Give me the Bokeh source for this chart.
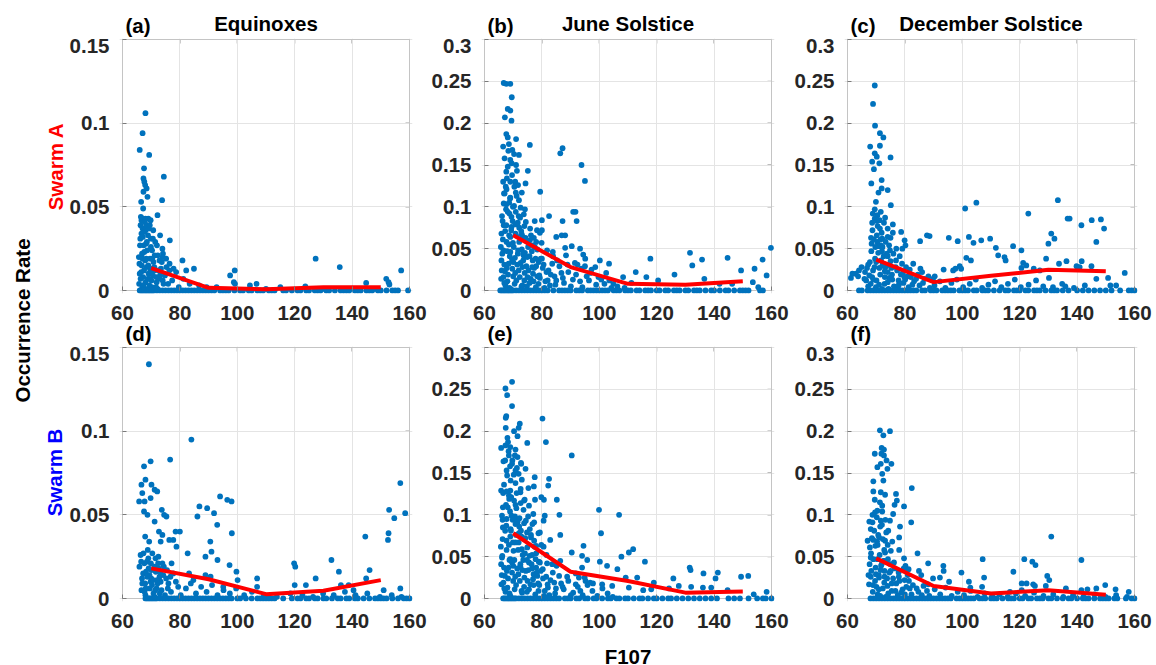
from math import pi

from bokeh.embed import file_html
from bokeh.layouts import column, row
from bokeh.models import (BoxAnnotation, FixedTicker, Grid, Label, LinearAxis,
                          NumeralTickFormatter, Range1d)
from bokeh.plotting import figure
from bokeh.resources import INLINE

# ---------------------------------------------------------------- data
# occurrence rate vs F10.7 for each season (columns) and satellite (rows)
a_points = [
    (68.0, 0.106), (67.0, 0.094), (66.0, 0.084), (69.3, 0.081), (67.5, 0.073), (67.3, 0.067),
    (67.6, 0.065), (67.9, 0.063), (68.4, 0.061), (74.4, 0.068), (67.3, 0.059), (73.8, 0.054),
    (66.5, 0.053), (68.7, 0.056), (67.2, 0.049), (72.2, 0.045), (66.6, 0.042), (67.2, 0.043),
    (68.0, 0.043), (69.0, 0.043), (69.8, 0.042), (66.3, 0.039), (67.0, 0.037), (68.3, 0.039),
    (69.5, 0.039), (68.0, 0.036), (70.7, 0.036), (73.1, 0.033), (76.5, 0.030), (74.1, 0.022),
    (74.0, 0.020), (80.9, 0.018), (75.3, 0.014), (76.3, 0.012), (82.2, 0.012), (84.9, 0.013),
    (97.5, 0.009), (99.1, 0.012), (98.8, 0.005), (99.2, 0.004), (104.4, 0.003), (106.7, 0.004),
    (127.3, 0.019), (135.7, 0.014), (144.9, 0.0045), (151.9, 0.007), (152.7, 0.005),
    (153.0, 0.0036), (157.1, 0.012), (123.7, 0.0025), (115.0, 0.002), (92.8, 0.002),
    (110.0, 0.001), (130.0, 0.001), (141.0, 0.001), (148.0, 0.001),
    (66.2, 0.031), (67.4, 0.027), (68.9, 0.033), (70.3, 0.024), (66.8, 0.022), (69.6, 0.019),
    (71.4, 0.029), (67.9, 0.018), (65.9, 0.016), (68.4, 0.014), (70.8, 0.017), (72.3, 0.021),
    (66.5, 0.011), (69.1, 0.010), (67.2, 0.008), (71.0, 0.012), (73.4, 0.013), (68.0, 0.005),
    (65.8, 0.004), (70.1, 0.006), (72.6, 0.007), (74.8, 0.009), (66.9, 0.002), (69.4, 0.003),
    (71.7, 0.002), (75.9, 0.004), (77.3, 0.006), (78.7, 0.011), (76.4, 0.016), (73.9, 0.025),
    (72.0, 0.027), (67.7, 0.035), (69.9, 0.031), (66.1, 0.027), (68.6, 0.024), (71.2, 0.021),
    (70.6, 0.009), (67.5, 0.012), (69.0, 0.015), (65.7, 0.020), (72.9, 0.018), (74.3, 0.004),
    (79.6, 0.002), (81.2, 0.007), (83.4, 0.004), (86.7, 0.003), (89.3, 0.002), (77.8, 0.013),
    (75.2, 0.019), (68.2, 0.028), (66.6, 0.034), (70.0, 0.013), (71.9, 0.005), (73.1, 0.009),
    (67.0, 0.019), (69.3, 0.007), (68.7, 0.001), (66.3, 0.007), (72.2, 0.001), (74.0, 0.006),
    (66.4, 0.044), (67.1, 0.032), (67.8, 0.041), (68.5, 0.029), (69.2, 0.037), (69.9, 0.026),
    (70.6, 0.031), (66.7, 0.015), (67.6, 0.023), (68.3, 0.019), (69.7, 0.012), (70.4, 0.019),
    (71.1, 0.014), (71.8, 0.008), (72.5, 0.012), (66.0, 0.010), (67.3, 0.003), (68.8, 0.007),
    (70.2, 0.002), (73.7, 0.017),
]
a_zero = [66, 66.5, 67, 67.5, 68, 68.5, 69, 69.5, 70, 70.5, 71, 72, 73, 74, 75, 76, 77, 78, 79,
          80, 81, 82, 83, 84, 85, 86, 87, 88, 89, 90, 91, 92, 94, 95, 96, 97, 99, 101, 102, 104,
          105, 107, 108, 109, 111, 112, 113, 116, 117, 119, 121, 122, 124, 125, 127, 128, 129,
          131, 132, 134, 136, 137, 138, 139, 141, 142, 143, 145, 146, 147, 149, 150, 152, 154,
          155, 156, 159.5]

b_points = [
    (66.7, 0.248), (67.6, 0.247), (69.0, 0.247), (69.5, 0.231), (68.1, 0.217), (69.0, 0.215),
    (67.1, 0.207), (69.4, 0.203), (67.6, 0.187), (68.1, 0.183), (71.0, 0.181), (75.8, 0.174),
    (66.5, 0.172), (68.5, 0.175), (69.7, 0.168), (70.3, 0.163), (72.0, 0.162), (67.0, 0.158),
    (69.0, 0.156), (71.0, 0.150), (68.1, 0.148), (75.1, 0.143), (67.6, 0.142), (69.6, 0.138),
    (66.5, 0.130), (69.0, 0.130), (70.7, 0.130), (67.4, 0.124), (71.7, 0.126), (74.3, 0.128),
    (67.0, 0.116), (73.0, 0.117), (79.4, 0.118), (68.9, 0.110), (72.0, 0.108), (67.6, 0.103),
    (69.9, 0.100), (74.1, 0.097), (68.7, 0.092), (71.9, 0.089), (77.5, 0.083), (80.0, 0.084),
    (82.5, 0.089), (87.2, 0.083), (87.2, 0.170), (86.4, 0.164), (93.8, 0.150), (95.0, 0.131),
    (90.9, 0.094), (91.7, 0.094), (92.1, 0.083), (66.7, 0.078), (69.4, 0.076), (73.9, 0.077),
    (78.3, 0.072), (80.0, 0.072), (65.9, 0.068), (70.8, 0.068), (73.1, 0.065), (85.0, 0.064),
    (86.9, 0.066), (88.1, 0.066), (67.7, 0.058), (75.8, 0.060), (76.9, 0.054), (90.4, 0.053),
    (93.3, 0.050), (66.6, 0.048), (69.0, 0.046), (71.6, 0.044), (73.6, 0.042), (80.0, 0.038),
    (83.8, 0.046), (88.1, 0.051), (94.4, 0.043), (95.1, 0.038), (100.2, 0.036), (98.6, 0.028),
    (103.4, 0.032), (117.8, 0.038), (131.6, 0.045), (132.4, 0.030), (135.8, 0.037),
    (144.7, 0.039), (149.4, 0.024), (154.1, 0.026), (156.9, 0.037), (159.8, 0.051),
    (158.3, 0.018), (153.5, 0.010), (155.4, 0.004), (112.7, 0.022), (116.4, 0.016),
    (126.2, 0.019), (136.6, 0.014), (108.3, 0.016), (120.5, 0.012), (141.9, 0.008),
    (146.3, 0.008), (104.9, 0.008), (111.2, 0.009),
    (66.4, 0.061), (67.9, 0.047), (69.3, 0.072), (70.6, 0.039), (72.1, 0.058), (73.5, 0.044),
    (75.2, 0.052), (76.8, 0.036), (78.4, 0.049), (66.9, 0.031), (68.2, 0.019), (69.7, 0.026),
    (71.1, 0.012), (72.6, 0.033), (74.0, 0.021), (75.7, 0.009), (77.3, 0.027), (79.1, 0.018),
    (80.6, 0.031), (82.3, 0.024), (83.9, 0.041), (65.8, 0.014), (67.3, 0.006), (68.8, 0.041),
    (70.2, 0.052), (71.6, 0.081), (73.0, 0.067), (74.6, 0.029), (76.1, 0.014), (77.9, 0.004),
    (79.6, 0.038), (81.2, 0.011), (82.8, 0.006), (84.4, 0.017), (86.1, 0.029), (87.7, 0.009),
    (89.2, 0.022), (90.8, 0.013), (92.4, 0.031), (94.1, 0.004), (95.6, 0.017), (97.3, 0.025),
    (98.9, 0.007), (100.7, 0.013), (102.4, 0.021), (104.2, 0.003), (66.1, 0.089), (67.5, 0.097),
    (68.6, 0.066), (70.9, 0.094), (72.4, 0.087), (69.0, 0.111), (70.4, 0.124), (67.8, 0.134),
    (71.3, 0.143), (69.5, 0.152), (68.3, 0.167), (70.9, 0.117), (66.7, 0.104), (73.7, 0.091),
    (75.9, 0.074), (77.2, 0.063), (79.9, 0.057), (81.8, 0.048), (85.3, 0.036), (88.4, 0.042),
    (91.5, 0.033), (93.7, 0.026), (96.4, 0.012), (66.2, 0.044), (67.1, 0.023), (68.0, 0.011),
    (69.1, 0.002), (70.0, 0.017), (71.9, 0.024), (73.2, 0.006), (74.9, 0.040), (76.5, 0.047),
    (78.0, 0.029), (79.3, 0.015), (80.9, 0.003), (83.1, 0.019), (85.0, 0.012), (86.8, 0.021),
    (88.9, 0.031), (90.1, 0.005), (91.9, 0.019), (93.3, 0.011), (95.0, 0.029), (96.9, 0.021),
    (99.7, 0.016), (101.8, 0.008), (103.5, 0.012), (106.3, 0.005), (108.8, 0.003), (67.6, 0.078),
    (69.8, 0.083), (72.8, 0.071), (74.3, 0.063), (71.0, 0.066), (65.9, 0.036), (68.5, 0.055),
    (70.0, 0.034), (73.9, 0.012), (76.9, 0.020), (78.8, 0.008), (81.6, 0.022), (84.7, 0.007),
    (87.3, 0.015),
    (66.3, 0.083), (67.2, 0.071), (68.1, 0.094), (69.0, 0.064), (69.9, 0.057), (70.8, 0.079),
    (71.7, 0.048), (72.6, 0.099), (73.5, 0.036), (74.4, 0.082), (75.3, 0.024), (76.2, 0.066),
    (77.1, 0.011), (78.0, 0.058), (78.9, 0.034), (66.8, 0.116), (67.7, 0.121), (68.6, 0.105),
    (69.4, 0.088), (70.3, 0.101), (71.2, 0.113), (72.1, 0.075), (73.0, 0.049), (73.9, 0.061),
    (74.8, 0.005), (75.7, 0.041), (76.6, 0.028), (77.5, 0.052), (78.4, 0.017), (79.3, 0.069),
    (66.0, 0.024), (66.9, 0.009), (67.8, 0.027), (68.7, 0.003), (69.6, 0.037), (70.5, 0.008),
    (71.4, 0.031), (72.3, 0.016), (73.2, 0.028), (74.1, 0.045), (65.7, 0.052), (66.6, 0.016),
    (68.4, 0.032), (70.7, 0.021), (72.9, 0.005), (75.0, 0.016), (77.8, 0.038), (80.3, 0.027),
    (82.0, 0.012), (83.6, 0.032),
]
b_zero = [65.5, 66, 66.5, 67, 67.5, 68, 68.5, 69, 69.5, 70, 71, 72, 73, 74, 75, 76, 77, 78, 79,
          80, 81, 82, 84, 86, 87, 88, 89, 90, 92, 93, 94, 96, 97, 98, 99, 100, 101, 102, 103,
          105, 106, 107, 109, 110, 111, 113, 114, 116, 117, 118, 120, 121, 123, 124, 126, 127,
          128, 130, 131, 133, 134, 135, 137, 139, 140, 142, 144, 145, 147, 149, 150, 151, 152,
          156, 157]

c_points = [
    (69.5, 0.245), (68.9, 0.223), (69.6, 0.197), (67.9, 0.172), (68.6, 0.154), (69.5, 0.164),
    (70.2, 0.160), (71.1, 0.152), (69.2, 0.145), (71.3, 0.188), (72.5, 0.183), (71.3, 0.173),
    (75.0, 0.159), (68.3, 0.128), (71.9, 0.132), (70.8, 0.117), (71.9, 0.122), (74.0, 0.120),
    (69.9, 0.106), (75.1, 0.102), (68.8, 0.092), (70.4, 0.090), (71.6, 0.094), (69.5, 0.086),
    (71.2, 0.084), (72.7, 0.081), (74.0, 0.074), (75.8, 0.079), (78.7, 0.070), (79.9, 0.060),
    (75.8, 0.069), (68.7, 0.072), (70.2, 0.066), (72.1, 0.062), (74.0, 0.064), (68.4, 0.056),
    (71.6, 0.054), (74.5, 0.054), (77.0, 0.050), (79.1, 0.050), (80.2, 0.054), (85.3, 0.059),
    (87.7, 0.066), (88.6, 0.065), (95.3, 0.063), (98.4, 0.059), (101.0, 0.098), (104.9, 0.105),
    (102.3, 0.064), (103.9, 0.057), (106.6, 0.060), (109.7, 0.062), (111.7, 0.051),
    (112.5, 0.042), (114.7, 0.040), (115.1, 0.036), (117.7, 0.053), (120.6, 0.048),
    (123.0, 0.092), (121.2, 0.033), (120.6, 0.027), (122.3, 0.030), (124.9, 0.026),
    (127.0, 0.024), (129.2, 0.038), (130.0, 0.056), (131.0, 0.068), (132.1, 0.062),
    (133.3, 0.108), (133.7, 0.032), (136.3, 0.035), (136.7, 0.086), (137.4, 0.086),
    (141.5, 0.078), (139.8, 0.029), (140.9, 0.028), (141.6, 0.035), (145.1, 0.084),
    (146.7, 0.058), (148.3, 0.085), (149.4, 0.074), (145.0, 0.029), (146.7, 0.014),
    (150.8, 0.015), (151.6, 0.006), (153.6, 0.006), (156.6, 0.021), (130.2, 0.015),
    (135.9, 0.005), (99.1, 0.029), (99.6, 0.026), (101.4, 0.039), (103.0, 0.036), (96.8, 0.024),
    (97.6, 0.026), (93.5, 0.025), (90.4, 0.017), (89.8, 0.014), (85.4, 0.026), (82.9, 0.032),
    (61.2, 0.015), (61.7, 0.020), (62.9, 0.020), (63.7, 0.017), (64.9, 0.028), (64.0, 0.024),
    (66.1, 0.022), (67.2, 0.031),
    (68.3, 0.047), (69.6, 0.038), (70.8, 0.053), (72.2, 0.031), (73.7, 0.044), (75.3, 0.027),
    (76.9, 0.036), (78.6, 0.019), (80.4, 0.028), (82.1, 0.016), (68.9, 0.024), (70.1, 0.012),
    (71.4, 0.019), (72.9, 0.008), (74.5, 0.015), (76.2, 0.005), (77.8, 0.012), (79.5, 0.009),
    (81.3, 0.004), (83.2, 0.011), (85.1, 0.006), (86.9, 0.014), (88.7, 0.003), (69.2, 0.061),
    (70.5, 0.077), (71.9, 0.069), (73.3, 0.058), (74.8, 0.048), (67.8, 0.034), (68.6, 0.016),
    (69.9, 0.004), (71.1, 0.027), (72.6, 0.041), (74.0, 0.022), (75.6, 0.013), (77.3, 0.024),
    (79.0, 0.032), (80.9, 0.017), (82.6, 0.007), (84.5, 0.019), (86.3, 0.009), (88.2, 0.017),
    (90.3, 0.006), (92.2, 0.011), (94.1, 0.003), (96.2, 0.009), (98.1, 0.013), (100.3, 0.004),
    (102.6, 0.008), (104.7, 0.013), (106.9, 0.003), (109.1, 0.007), (111.4, 0.011),
    (113.6, 0.004), (115.9, 0.008), (118.3, 0.013), (120.4, 0.004), (123.1, 0.007),
    (125.7, 0.012), (128.2, 0.005), (131.6, 0.004), (134.8, 0.008), (138.9, 0.003),
    (142.7, 0.006), (70.3, 0.083), (71.7, 0.036), (73.0, 0.016), (74.3, 0.002), (76.0, 0.044),
    (77.6, 0.003), (79.3, 0.021), (81.7, 0.025), (83.9, 0.014), (86.0, 0.022), (68.1, 0.008),
    (69.4, 0.028), (70.7, 0.045), (72.0, 0.002), (73.5, 0.029), (75.0, 0.035), (66.5, 0.012),
    (67.2, 0.005), (78.2, 0.041), (80.1, 0.013),
    (68.6, 0.081), (69.5, 0.097), (70.4, 0.058), (71.3, 0.074), (72.2, 0.052), (73.1, 0.087),
    (74.0, 0.041), (75.0, 0.063), (69.0, 0.013), (70.0, 0.034), (71.0, 0.007), (72.0, 0.047),
    (73.0, 0.023), (74.0, 0.010), (75.5, 0.019), (76.8, 0.028), (68.2, 0.063), (69.7, 0.052),
    (71.5, 0.061), (72.8, 0.029), (67.6, 0.018), (66.8, 0.027), (65.9, 0.014), (77.9, 0.007),
    (79.8, 0.016),
]
c_zero = [64, 65, 67, 68, 69, 70, 71, 72, 73, 74, 75, 76, 77, 78, 79, 80, 81, 82, 83, 84, 86, 87,
          89, 90, 91, 93, 94, 95, 96, 97, 99, 100, 101, 102, 104, 105, 107, 108, 109, 111, 113,
          115, 116, 118, 119, 120, 122, 123, 125, 126, 127, 129, 131, 132, 133, 135, 137, 140,
          142, 144, 146, 148, 150, 152, 155, 158, 159, 160]

d_points = [
    (69.2, 0.140), (84.0, 0.095), (76.6, 0.083), (69.8, 0.082), (67.5, 0.079), (156.8, 0.069),
    (66.6, 0.068), (68.0, 0.071), (70.1, 0.068), (71.2, 0.065), (72.1, 0.064), (65.8, 0.058),
    (66.9, 0.063), (67.7, 0.058), (69.8, 0.060), (94.0, 0.061), (96.5, 0.059), (98.0, 0.058),
    (86.8, 0.055), (89.5, 0.054), (86.1, 0.049), (91.9, 0.051), (73.7, 0.053), (74.5, 0.050),
    (75.3, 0.049), (67.5, 0.052), (68.7, 0.050), (152.9, 0.053), (154.7, 0.048), (158.5, 0.051),
    (93.0, 0.044), (71.2, 0.046), (72.7, 0.040), (73.9, 0.038), (78.5, 0.040), (80.0, 0.040),
    (76.3, 0.035), (77.7, 0.035), (78.8, 0.031), (67.9, 0.037), (69.3, 0.034), (73.3, 0.034),
    (144.6, 0.037), (152.7, 0.039), (152.5, 0.035), (98.1, 0.039), (90.6, 0.034), (91.0, 0.028),
    (82.7, 0.027), (93.1, 0.023), (88.9, 0.025), (97.3, 0.020), (132.8, 0.023), (119.8, 0.021),
    (120.2, 0.019), (135.4, 0.016), (146.1, 0.017), (99.7, 0.016), (100.1, 0.011),
    (106.9, 0.012), (127.3, 0.012), (144.9, 0.012), (90.7, 0.013), (88.9, 0.014), (84.7, 0.011),
    (83.2, 0.015), (95.1, 0.007), (106.9, 0.007), (120.0, 0.008), (123.9, 0.008), (136.1, 0.008),
    (138.8, 0.008), (156.8, 0.006), (151.0, 0.005), (140.5, 0.005),
    (66.3, 0.026), (67.6, 0.021), (68.8, 0.029), (70.1, 0.017), (71.5, 0.024), (72.9, 0.013),
    (74.4, 0.019), (76.0, 0.009), (77.7, 0.015), (79.4, 0.007), (66.8, 0.012), (68.1, 0.006),
    (69.4, 0.014), (70.8, 0.003), (72.2, 0.009), (73.6, 0.005), (75.2, 0.012), (76.9, 0.004),
    (78.6, 0.010), (80.3, 0.002), (82.1, 0.006), (83.8, 0.009), (85.6, 0.003), (87.4, 0.007),
    (89.3, 0.004), (91.2, 0.008), (93.1, 0.002), (95.2, 0.005), (97.4, 0.003), (99.6, 0.006),
    (65.9, 0.019), (67.2, 0.015), (68.5, 0.022), (69.8, 0.010), (71.1, 0.019), (72.5, 0.025),
    (73.9, 0.021), (75.5, 0.017), (77.1, 0.021), (70.4, 0.027), (68.0, 0.002), (69.1, 0.018),
    (71.9, 0.006), (73.2, 0.016), (74.8, 0.002), (66.6, 0.005), (67.9, 0.009), (70.0, 0.012),
    (71.2, 0.001), (72.6, 0.018), (102.4, 0.002), (105.1, 0.004), (109.3, 0.002),
    (113.8, 0.001), (118.5, 0.003), (122.7, 0.002), (126.4, 0.001), (129.9, 0.003),
    (133.6, 0.002), (137.5, 0.004), (141.2, 0.002), (145.3, 0.003), (149.7, 0.001),
    (153.8, 0.002), (157.2, 0.001),
    (66.5, 0.022), (67.3, 0.027), (68.2, 0.016), (69.0, 0.024), (69.9, 0.021), (70.7, 0.011),
    (71.6, 0.016), (72.4, 0.021), (73.3, 0.010), (74.2, 0.014), (66.9, 0.009), (67.7, 0.004),
    (68.6, 0.013), (69.5, 0.006), (70.3, 0.008), (71.4, 0.005), (72.0, 0.011), (73.0, 0.003),
    (75.8, 0.006), (76.7, 0.013),
]
d_zero = [68, 68.5, 69, 69.5, 70, 70.5, 71, 71.5, 72, 73, 74, 75, 76, 77, 78, 79, 80, 81, 82, 83,
          84, 85, 86, 87, 88, 89, 90, 91, 92, 93, 94, 95, 96, 97, 98, 100, 101, 103, 105, 107,
          108, 109, 110, 111, 112, 113, 116, 119, 121, 122, 124, 125, 127, 128, 130, 131, 133,
          135, 136, 138, 139, 141, 142, 144, 146, 148, 149, 150, 151, 152, 154, 156, 158, 159,
          160]

e_points = [
    (69.6, 0.259), (67.3, 0.251), (67.9, 0.243), (69.6, 0.230), (67.6, 0.218), (67.4, 0.216),
    (72.3, 0.209), (71.9, 0.204), (67.4, 0.204), (70.3, 0.200), (71.5, 0.194), (68.0, 0.192),
    (80.2, 0.215), (81.4, 0.187), (74.9, 0.186), (65.8, 0.180), (67.3, 0.183), (69.0, 0.181),
    (70.8, 0.178), (68.5, 0.171), (71.5, 0.169), (90.4, 0.171), (66.6, 0.164), (69.6, 0.161),
    (72.7, 0.162), (74.3, 0.155), (67.7, 0.153), (70.8, 0.153), (77.5, 0.145), (82.5, 0.143),
    (82.2, 0.135), (77.2, 0.134), (75.3, 0.132), (65.8, 0.129), (69.0, 0.129), (72.5, 0.127),
    (68.5, 0.123), (79.8, 0.121), (80.7, 0.118), (85.2, 0.118), (77.6, 0.118), (73.8, 0.117),
    (66.4, 0.109), (70.8, 0.112), (75.5, 0.111), (99.9, 0.106), (106.9, 0.100), (86.1, 0.100),
    (81.0, 0.099), (77.0, 0.101), (67.7, 0.095), (71.5, 0.093), (73.8, 0.090), (77.3, 0.091),
    (80.6, 0.093), (100.6, 0.078), (66.4, 0.085), (69.2, 0.081), (72.0, 0.078), (74.8, 0.079),
    (78.8, 0.078), (82.9, 0.070), (86.4, 0.076), (67.7, 0.069), (70.8, 0.067), (76.2, 0.073),
    (80.6, 0.062), (111.8, 0.059), (110.3, 0.055), (107.7, 0.050), (94.5, 0.063), (94.0, 0.051),
    (90.4, 0.055), (95.8, 0.046), (115.9, 0.044), (100.2, 0.044), (102.7, 0.039), (106.3, 0.035),
    (81.8, 0.042), (66.1, 0.049), (69.0, 0.047), (72.5, 0.041), (75.5, 0.043), (78.0, 0.037),
    (86.4, 0.045), (94.0, 0.037), (91.8, 0.030), (109.2, 0.025), (113.2, 0.025), (119.0, 0.019),
    (125.8, 0.024), (131.5, 0.037), (131.8, 0.034), (136.3, 0.030), (141.3, 0.031),
    (140.5, 0.024), (149.4, 0.026), (151.9, 0.027), (158.3, 0.008), (153.8, 0.005),
    (144.7, 0.010), (139.0, 0.013), (136.1, 0.013), (132.0, 0.014), (127.7, 0.015),
    (124.3, 0.012), (118.1, 0.011), (115.3, 0.010), (110.3, 0.013), (104.5, 0.015),
    (101.0, 0.017), (97.8, 0.018), (95.2, 0.021), (92.9, 0.025),
    (66.3, 0.071), (67.7, 0.058), (69.1, 0.083), (70.4, 0.046), (71.9, 0.067), (73.3, 0.052),
    (74.9, 0.061), (76.4, 0.041), (78.0, 0.054), (79.6, 0.033), (66.8, 0.037), (68.2, 0.024),
    (69.6, 0.031), (71.0, 0.016), (72.5, 0.038), (73.9, 0.025), (75.5, 0.011), (77.1, 0.029),
    (78.7, 0.018), (80.4, 0.024), (82.1, 0.013), (83.8, 0.031), (65.9, 0.017), (67.3, 0.008),
    (68.7, 0.046), (70.1, 0.057), (71.5, 0.091), (72.9, 0.074), (74.4, 0.033), (76.0, 0.017),
    (77.7, 0.005), (79.3, 0.043), (81.0, 0.009), (82.6, 0.004), (84.3, 0.019), (86.0, 0.027),
    (87.6, 0.011), (89.2, 0.021), (90.9, 0.007), (92.5, 0.014), (94.2, 0.004), (95.9, 0.016),
    (97.6, 0.009), (99.3, 0.003), (101.1, 0.012), (102.9, 0.006), (104.7, 0.002), (66.1, 0.099),
    (67.5, 0.112), (68.9, 0.104), (70.6, 0.098), (72.2, 0.096), (69.3, 0.121), (70.8, 0.138),
    (67.9, 0.147), (71.3, 0.156), (69.7, 0.165), (68.4, 0.176), (66.5, 0.126), (73.6, 0.106),
    (75.8, 0.083), (77.3, 0.069), (79.8, 0.064), (81.6, 0.052), (85.1, 0.039), (66.2, 0.051),
    (67.1, 0.027), (68.0, 0.013), (69.0, 0.003), (70.0, 0.021), (71.8, 0.029), (73.1, 0.007),
    (74.8, 0.046), (76.6, 0.052), (78.2, 0.031), (79.1, 0.016), (80.8, 0.003), (83.0, 0.022),
    (84.9, 0.012), (86.7, 0.018), (88.8, 0.026), (90.1, 0.004), (91.8, 0.017), (93.4, 0.009),
    (94.9, 0.025), (96.8, 0.019), (67.6, 0.087), (69.8, 0.094), (72.7, 0.081), (74.2, 0.072),
    (71.0, 0.076), (65.8, 0.041), (68.5, 0.064), (70.0, 0.039), (73.8, 0.014), (76.9, 0.023),
    (78.8, 0.009), (81.5, 0.026), (84.6, 0.006), (87.2, 0.014), (75.2, 0.098), (76.7, 0.089),
    (74.0, 0.118), (72.6, 0.131), (71.1, 0.108), (70.2, 0.148), (73.0, 0.142), (67.2, 0.165),
    (68.9, 0.158),
    (66.3, 0.094), (67.2, 0.081), (68.1, 0.109), (69.0, 0.074), (69.9, 0.067), (70.8, 0.089),
    (71.7, 0.058), (72.6, 0.114), (73.5, 0.046), (74.4, 0.093), (75.3, 0.034), (76.2, 0.076),
    (77.1, 0.016), (78.0, 0.063), (78.9, 0.044), (66.8, 0.136), (67.7, 0.128), (68.6, 0.119),
    (69.4, 0.099), (70.3, 0.117), (71.2, 0.126), (72.1, 0.086), (73.0, 0.059), (73.9, 0.071),
    (74.8, 0.008), (75.7, 0.051), (76.6, 0.036), (77.5, 0.062), (78.4, 0.027), (79.3, 0.079),
    (66.0, 0.028), (66.9, 0.012), (67.8, 0.033), (68.7, 0.006), (69.6, 0.043), (70.5, 0.011),
    (71.4, 0.036), (72.3, 0.021), (73.2, 0.034), (74.1, 0.054), (65.7, 0.062), (66.6, 0.019),
    (68.4, 0.037), (70.7, 0.026), (72.9, 0.009), (75.0, 0.021), (77.8, 0.047), (80.3, 0.035),
    (82.0, 0.017), (83.6, 0.041), (69.1, 0.141), (70.6, 0.171), (71.9, 0.149), (72.8, 0.161),
    (68.2, 0.187),
]
e_zero = [66.5, 67, 67.5, 68, 68.5, 69, 69.5, 70, 70.5, 71, 72, 73, 74, 75, 76, 77, 78, 79, 80,
          81, 82, 83, 84, 85, 86, 88, 89, 90, 92, 93, 95, 96, 98, 99, 101, 103, 104, 106, 107,
          109, 110, 112, 114, 115, 117, 119, 120, 122, 124, 125, 127, 129, 131, 133, 135, 137,
          139, 141, 145, 147, 149, 152, 155, 157, 158, 160]

f_points = [
    (71.3, 0.201), (74.8, 0.200), (72.5, 0.195), (69.5, 0.173), (71.9, 0.180), (72.7, 0.178),
    (71.8, 0.173), (72.7, 0.171), (73.6, 0.165), (75.3, 0.161), (70.4, 0.157), (71.6, 0.161),
    (73.9, 0.155), (72.1, 0.149), (72.5, 0.141), (69.0, 0.140), (82.4, 0.132), (76.9, 0.125),
    (73.1, 0.124), (69.0, 0.128), (71.6, 0.127), (69.5, 0.118), (77.2, 0.117), (76.4, 0.112),
    (79.7, 0.110), (71.3, 0.115), (72.1, 0.111), (70.4, 0.105), (72.1, 0.104), (75.9, 0.101),
    (68.7, 0.100), (70.2, 0.097), (71.6, 0.093), (74.8, 0.093), (82.2, 0.091), (67.6, 0.092),
    (68.1, 0.083), (74.2, 0.081), (78.3, 0.086), (78.0, 0.073), (131.0, 0.074), (67.0, 0.069),
    (69.0, 0.070), (71.0, 0.073), (73.1, 0.069), (75.6, 0.068), (78.0, 0.058), (84.4, 0.054),
    (79.7, 0.048), (107.1, 0.047), (121.6, 0.047), (124.4, 0.044), (125.5, 0.040),
    (141.5, 0.046), (68.1, 0.049), (70.4, 0.047), (72.7, 0.045), (75.0, 0.041), (80.2, 0.039),
    (81.3, 0.035), (88.1, 0.042), (93.4, 0.039), (93.5, 0.033), (84.9, 0.033), (85.7, 0.028),
    (99.7, 0.031), (92.2, 0.025), (89.8, 0.024), (95.4, 0.020), (102.3, 0.020), (107.6, 0.025),
    (117.8, 0.032), (120.7, 0.018), (122.4, 0.018), (124.7, 0.017), (125.3, 0.015),
    (129.6, 0.027), (130.3, 0.022), (129.1, 0.015), (136.1, 0.012), (141.5, 0.010),
    (143.6, 0.011), (146.7, 0.012), (149.8, 0.016), (153.4, 0.011), (158.0, 0.008),
    (120.7, 0.010), (116.6, 0.008), (102.8, 0.013), (106.9, 0.014), (88.1, 0.017),
    (67.8, 0.061), (69.0, 0.047), (70.3, 0.068), (71.7, 0.039), (73.1, 0.055), (74.6, 0.031),
    (76.2, 0.043), (77.9, 0.026), (79.6, 0.036), (81.4, 0.021), (68.3, 0.033), (69.6, 0.021),
    (70.9, 0.028), (72.3, 0.012), (73.8, 0.024), (75.4, 0.009), (77.0, 0.018), (78.7, 0.007),
    (80.5, 0.014), (82.3, 0.005), (84.1, 0.012), (85.9, 0.004), (87.7, 0.009), (67.5, 0.017),
    (68.8, 0.008), (70.1, 0.014), (71.4, 0.003), (72.8, 0.019), (74.2, 0.006), (75.9, 0.024),
    (77.5, 0.004), (79.2, 0.011), (81.0, 0.028), (82.8, 0.016), (84.7, 0.008), (86.5, 0.015),
    (88.5, 0.003), (90.4, 0.011), (92.3, 0.005), (94.2, 0.013), (96.3, 0.003), (98.4, 0.008),
    (100.6, 0.004), (102.9, 0.009), (105.3, 0.002), (107.8, 0.006), (110.4, 0.003),
    (113.0, 0.005), (115.8, 0.002), (118.7, 0.006), (121.9, 0.003), (125.0, 0.007),
    (128.3, 0.003), (131.7, 0.005), (135.2, 0.002), (138.6, 0.004), (142.2, 0.002),
    (146.1, 0.005), (149.9, 0.002), (153.6, 0.004), (157.4, 0.002), (69.3, 0.081),
    (70.7, 0.076), (72.0, 0.088), (73.5, 0.079), (68.5, 0.072), (71.2, 0.052), (72.6, 0.045),
    (74.0, 0.064), (75.1, 0.057), (76.5, 0.036), (69.8, 0.037), (71.0, 0.025), (72.9, 0.033),
    (70.5, 0.005), (68.1, 0.026), (73.3, 0.002), (78.1, 0.021), (80.0, 0.005),
    (68.7, 0.091), (69.6, 0.103), (70.5, 0.064), (71.4, 0.086), (72.3, 0.071), (73.2, 0.094),
    (74.1, 0.047), (75.0, 0.033), (68.9, 0.016), (69.9, 0.029), (70.9, 0.011), (71.9, 0.041),
    (72.9, 0.026), (73.9, 0.015), (75.4, 0.018), (76.7, 0.009), (68.2, 0.054), (69.7, 0.063),
    (71.5, 0.034), (72.8, 0.058), (67.7, 0.041), (67.3, 0.028), (77.8, 0.031), (79.9, 0.022),
    (81.7, 0.012),
]
f_zero = [68, 69, 70, 71, 72, 73, 74, 75, 76, 77, 78, 79, 80, 81, 82, 83, 84, 85, 86, 87, 88, 89,
          90, 91, 92, 93, 94, 95, 96, 98, 99, 100, 101, 102, 103, 104, 106, 107, 108, 110, 111,
          112, 114, 116, 117, 118, 120, 121, 123, 124, 126, 127, 128, 130, 131, 133, 135, 137,
          138, 140, 142, 143, 144, 146, 148, 149, 150, 151, 153, 154, 157, 159, 160]

# binned mean occurrence rate (red curves)
trend_f107 = [70, 90, 110, 130, 150]
trend_a = [0.0134, 0.0016, 0.0008, 0.0020, 0.0020]
trend_b = [0.066, 0.028, 0.008, 0.007, 0.011]
trend_c = [0.037, 0.010, 0.0175, 0.0247, 0.023]
trend_d = [0.018, 0.0115, 0.0026, 0.0046, 0.011]
trend_e = [0.078, 0.032, 0.021, 0.007, 0.0085]
trend_f = [0.048, 0.015, 0.006, 0.010, 0.0044]

x_ticks = [60, 80, 100, 120, 140, 160]
y_ticks_small = [0, 0.05, 0.1, 0.15]
y_ticks_large = [0, 0.05, 0.1, 0.15, 0.2, 0.25, 0.3]

season_titles = ["Equinoxes", "June Solstice", "December Solstice"]
panel_tags = ["(a)", "(b)", "(c)", "(d)", "(e)", "(f)"]

# ---------------------------------------------------------------- style / geometry
FONT = "Liberation Sans"
FS = "20.5px"
DOT = "#0072BD"
BOX = "#7a7a7a"
GRID = "#e4e4e4"
TXT = "#262626"
PAD = 3            # px beyond the box on left/right/bottom so edge markers stay whole
PAD_TOP = 1
TICK = 4           # inward tick length, px
LEFT = 53
BOTTOM = 32
BOX_W = 287
BOX_H = 251
FRAME_H = BOX_H + PAD + PAD_TOP
BASE = 7           # lift applied to alphabetic-baseline labels

STRIP_W = 66
widths = [362, 363, 365]
rights = [16, 17, 19]
HEAD1 = 38
HEAD2 = 21
PANEL_H = FRAME_H + BOTTOM
FOOT = 665 - HEAD1 - HEAD2 - 2 * PANEL_H
GRID_W = sum(widths)


def text_label(x, y, text, align="left", color="black", angle=0.0, baseline="alphabetic"):
    return Label(x=x, y=y, x_units="screen", y_units="screen", text=text, angle=angle,
                 text_font=FONT, text_font_style="bold", text_font_size=FS,
                 text_color=color, text_align=align, text_baseline=baseline)


def blank(width, height):
    f = figure(width=width, height=height, x_axis_type=None, y_axis_type=None,
               output_backend="svg", toolbar_location=None, min_border=0)
    f.outline_line_color = None
    f.xgrid.visible = False
    f.ygrid.visible = False
    return f


def add_axis(p, side, ticks, fmt=None):
    ax = LinearAxis(ticker=FixedTicker(ticks=ticks))
    ax.axis_line_color = None
    ax.major_tick_in = PAD + TICK
    ax.major_tick_out = -PAD
    ax.minor_tick_in = 0
    ax.minor_tick_out = 0
    ax.major_tick_line_color = BOX
    ax.major_label_text_font = FONT
    ax.major_label_text_font_style = "bold"
    ax.major_label_text_color = TXT
    ax.major_label_text_font_size = FS
    ax.major_label_standoff = 10 if side == "left" else 12
    if fmt is not None:
        ax.formatter = fmt
    p.add_layout(ax, side)


def panel(points, zeros, trend, ymax, yticks, width, right):
    fw = width - LEFT - right
    dx = PAD * 100 / BOX_W
    dx_r = (fw - BOX_W - PAD) * 100 / BOX_W
    dy = PAD * ymax / BOX_H
    dy_t = PAD_TOP * ymax / BOX_H
    p = figure(width=width, height=PANEL_H,
               x_range=Range1d(60 - dx, 160 + dx_r), y_range=Range1d(-dy, ymax + dy_t),
               x_axis_type=None, y_axis_type=None,
               output_backend="svg", toolbar_location=None,
               min_border_left=LEFT, min_border_right=right,
               min_border_top=0, min_border_bottom=BOTTOM)
    p.outline_line_color = None

    add_axis(p, "below", x_ticks)
    add_axis(p, "left", yticks, NumeralTickFormatter(format="0.[00]"))

    p.add_layout(Grid(dimension=0, ticker=FixedTicker(ticks=x_ticks),
                      grid_line_color=GRID, grid_line_width=1))
    p.add_layout(Grid(dimension=1, ticker=FixedTicker(ticks=yticks),
                      grid_line_color=GRID, grid_line_width=1))
    p.add_layout(BoxAnnotation(left=60, right=160, bottom=0, top=ymax,
                               fill_color=None, line_color=BOX, line_width=1,
                               level="underlay"))
    # inward ticks on the top and right edges of the box
    tx = TICK * 100 / BOX_W
    ty = TICK * ymax / BOX_H
    p.segment(x0=x_ticks, y0=[ymax] * len(x_ticks), x1=x_ticks,
              y1=[ymax - ty] * len(x_ticks), line_color=BOX, line_width=1, level="underlay")
    p.segment(x0=[160] * len(yticks), y0=yticks, x1=[160 - tx] * len(yticks),
              y1=yticks, line_color=BOX, line_width=1, level="underlay")

    xs = [pt[0] for pt in points] + list(zeros)
    ys = [pt[1] for pt in points] + [0.0] * len(zeros)
    p.scatter(xs, ys, size=5.8, fill_color=DOT, line_color=None)
    p.line(trend_f107, trend, line_width=4, line_color="#FF0000")
    return p


all_points = [a_points, b_points, c_points, d_points, e_points, f_points]
all_zero = [a_zero, b_zero, c_zero, d_zero, e_zero, f_zero]
all_trend = [trend_a, trend_b, trend_c, trend_d, trend_e, trend_f]

panels = []
for i in range(6):
    r, c = divmod(i, 3)
    ymax = 0.15 if c == 0 else 0.3
    yticks = y_ticks_small if c == 0 else y_ticks_large
    panels.append(panel(all_points[i], all_zero[i], all_trend[i], ymax, yticks,
                        widths[c], rights[c]))

# header rows with panel tags and season titles
col_left = [0, widths[0], widths[0] + widths[1]]
head1 = blank(GRID_W, HEAD1)
head2 = blank(GRID_W, HEAD2)
for c in range(3):
    x0 = col_left[c] + LEFT + PAD
    head1.add_layout(text_label(x0 + 3, HEAD1 - 32 + BASE, panel_tags[c]))
    head1.add_layout(text_label(x0 + BOX_W / 2, HEAD1 - 30 + BASE, season_titles[c],
                                align="center"))
    head2.add_layout(text_label(x0 + 3, HEAD2 - 15 + BASE, panel_tags[c + 3]))

# footer with the shared x caption
foot = blank(GRID_W, FOOT)
foot.add_layout(text_label(col_left[1] + LEFT + PAD + BOX_W / 2, 2 + BASE, "F107",
                           align="center"))

# left strip carrying the shared y caption and the satellite names
strip = blank(STRIP_W, 665)
for txt, x, y, col in [("Occurrence Rate", 22, 345, "black"),
                       ("Swarm A", 55, 499, "#FF0000"),
                       ("Swarm B", 54, 193, "#0000FF")]:
    strip.add_layout(text_label(x, y, txt, align="center", color=col, angle=pi / 2,
                                baseline="middle"))

layout = row(strip, column(head1, row(*panels[:3]), head2, row(*panels[3:]), foot))

with open("out.html", "w") as fh_out:
    fh_out.write(file_html(layout, INLINE))
